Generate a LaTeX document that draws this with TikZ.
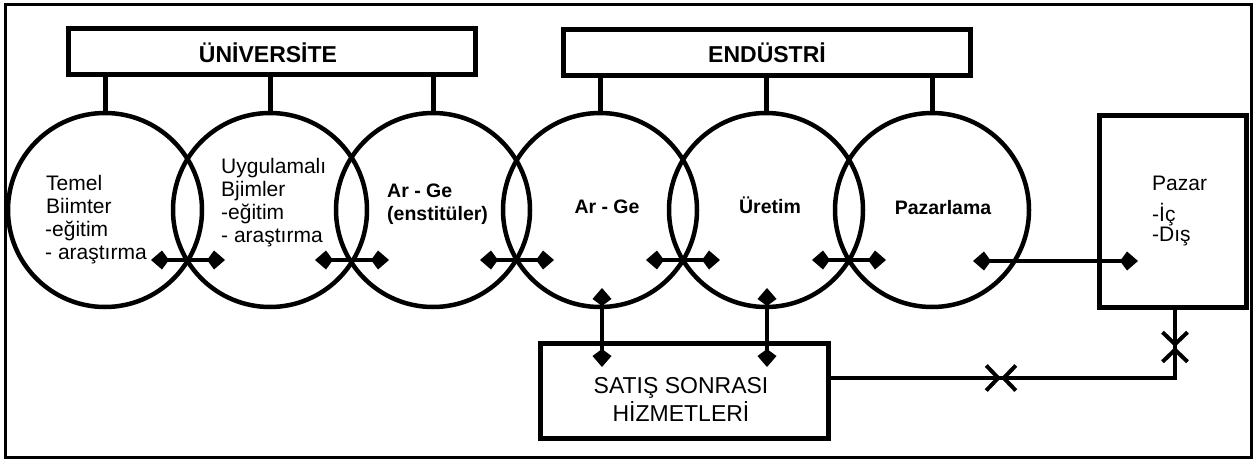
\documentclass[tikz,border=0pt]{standalone}
\usepackage{fontspec}
\setmainfont{Liberation Sans}
\usetikzlibrary{arrows.meta,calc}
\begin{document}
\begin{tikzpicture}[x=1pt,y=-1pt,
  frameline/.style={line width=3pt},
  bigbox/.style={draw,line width=5pt,minimum width=407pt,minimum height=46pt,inner sep=0pt},
  titletxt/.style={font=\bfseries\fontsize{23}{27}\selectfont,anchor=base,inner sep=0pt},
  ring/.style={draw,circle,line width=4.5pt,minimum size=194pt,inner sep=0pt},
  conn/.style={line width=5pt},
  kt/.tip={Kite[length=18pt,width=19pt,inset=7pt]},
  dbl/.style={line width=4.5pt,kt-kt},
  meet/.style={line width=4pt,-{Straight Barb[length=12pt,width=25pt]}},
  flowline/.style={line width=4pt},
  plaintxt/.style={font=\fontsize{21}{23}\selectfont,align=left,inner sep=0pt,anchor=base west},
  boldtxt/.style={font=\bfseries\fontsize{19.5}{23}\selectfont,inner sep=0pt},
  sbox/.style={draw,line width=5pt,inner sep=0pt}
]
\useasboundingbox (0,0) rectangle (1253,460);
\draw[frameline] (5,4.5) rectangle (1251,457.5);

% top boxes
\node[bigbox] (univ) at (271.5,52) {};
\node[bigbox] (endu) at (766.5,52.5) {};
\node[titletxt] (univt) at (268,63) {ÜNİVERSİTE};
\node[titletxt] (endut) at (767,63) {ENDÜSTRİ};

% circles
\node[ring] (c1) at (105,210) {};
\node[ring] (c2) at (270,210) {};
\node[ring] (c3) at (433,210) {};
\node[ring] (c4) at (600,210) {};
\node[ring] (c5) at (766,210) {};
\node[ring] (c6) at (932,210) {};

% connectors
\foreach \c in {c1,c2,c3} \draw[conn] (univ.south -| \c.north) -- (\c.north);
\foreach \c in {c4,c5,c6} \draw[conn] (endu.south -| \c.north) -- (\c.north);

% circle texts (base anchor = last line)
\node[plaintxt] (t1) at (45,259) {\hspace{1pt}Temel\\\hspace{1pt}Biimter\\-eğitim\\- araştırma};
\node[plaintxt] (t2) at (221,242) {Uygulamalı\\Bjimler\\-eğitim\\- araştırma};
\node[boldtxt,anchor=base west,align=left] (t3) at (387,220) {Ar - Ge\\(enstitüler)};
\node[boldtxt,anchor=base] (t4) at (607,213) {Ar - Ge};
\node[boldtxt,anchor=base] (t5) at (770,213) {Üretim};
\node[boldtxt,anchor=base] (t6) at (943,214) {Pazarlama};

% horizontal double arrows between circles
\foreach \i/\m in {1/188,2/352,3/517,4/683,5/849}{
  \coordinate (hl\i) at (\m-37,260);
  \coordinate (hr\i) at (\m+37,260);
  \draw[dbl] (hl\i) -- (hr\i);
}

% Pazar box
\node[sbox,minimum width=147pt,minimum height=192pt] (pazar) at (1172.5,211) {};
\node[plaintxt,font=\fontsize{21}{24}\selectfont] (pzt) at (1152,190) {Pazar};
\node[plaintxt,font=\fontsize{21}{20}\selectfont] (pzl) at (1152,241) {-İç\\-Dış};
\coordinate (pl) at (973,261);
\coordinate (pr) at (1138,261);
\draw[dbl] (pl) -- (pr);

% after-sales box
\node[sbox,minimum width=288pt,minimum height=95pt] (satis) at (684,390.5) {};
\node[font=\fontsize{23}{28}\selectfont,align=center,inner sep=0pt,anchor=base] (satist) at (681,421) {SATIŞ SONRASI\\HİZMETLERİ};

% vertical arrows
\coordinate (v4t) at (602,288);
\coordinate (v4b) at (602,367);
\coordinate (v5t) at (767,288);
\coordinate (v5b) at (767,367);
\draw[dbl] (v4t) -- (v4b);
\draw[dbl] (v5t) -- (v5b);

% flow to market
\coordinate (sout) at (828,378);
\coordinate (corner) at (1175,378);
\coordinate (ptop) at (1175,307);
\coordinate (m1) at (1001,378);
\coordinate (m2) at (1175,347);
\draw[flowline,line join=miter] (sout) -- (corner) -- (ptop);
\draw[meet] (sout) -- (m1);
\draw[meet] (corner) -- (m1);
\draw[meet] (ptop) -- (m2);
\draw[meet] (corner) -- (m2);
\end{tikzpicture}
\end{document}
